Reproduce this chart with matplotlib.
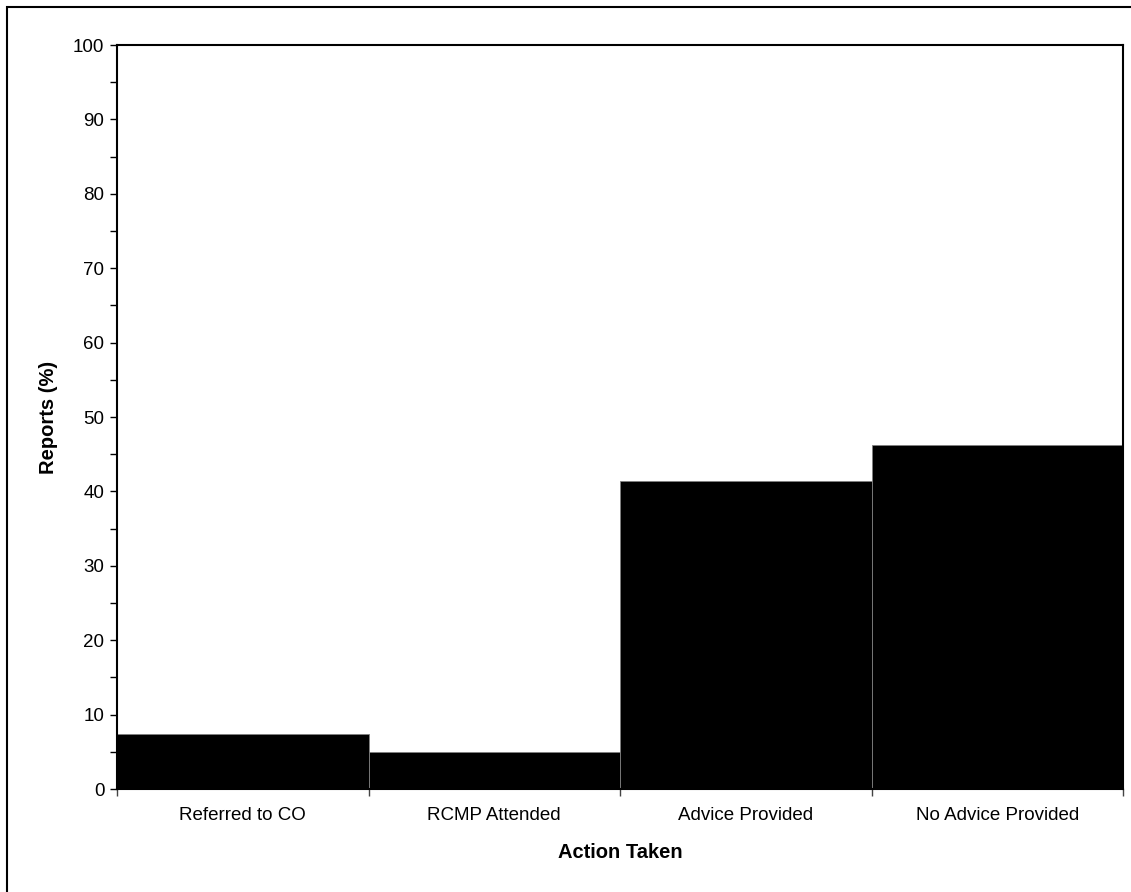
import numpy as np
import matplotlib.pyplot as plt
from matplotlib.patches import Rectangle
from matplotlib.ticker import MultipleLocator, FixedLocator, NullFormatter

plt.rcParams['font.family'] = ['Liberation Sans', 'DejaVu Sans']

acoes = ['Referred to CO', 'RCMP Attended', 'Advice Provided', 'No Advice Provided']
relatos = [7.4, 5.0, 41.4, 46.3]

fig = plt.figure(figsize=(11.31, 8.92), dpi=100)
ax = fig.add_axes([117 / 1131, 1 - 789 / 892, (1123 - 117) / 1131, (789 - 45) / 892])

x = np.arange(len(acoes))
ax.bar(x, relatos, width=1.0, color='black', edgecolor='#808080', linewidth=0.6)

ax.set_xlim(-0.5, len(acoes) - 0.5)
ax.set_ylim(0, 100)

# ticks nas divisas entre categorias, rotulos no centro
ax.xaxis.set_major_locator(FixedLocator(np.arange(-0.5, len(acoes), 1.0)))
ax.xaxis.set_major_formatter(NullFormatter())
ax.xaxis.set_minor_locator(FixedLocator(x))
ax.set_xticklabels(acoes, minor=True)
ax.tick_params(axis='x', which='major', direction='out', length=5, width=1, color='#444444')
ax.tick_params(axis='x', which='minor', length=0, labelsize=13.5, pad=13)

ax.yaxis.set_major_locator(MultipleLocator(10))
ax.yaxis.set_minor_locator(MultipleLocator(5))
ax.tick_params(axis='y', which='both', direction='out', length=5, width=1, labelsize=13.5, pad=4)

for s in ax.spines.values():
    s.set_linewidth(1.5)
    s.set_color('black')

ax.set_xlabel('Action Taken', fontsize=14.5, fontweight='bold', labelpad=14)
ax.set_ylabel('Reports (%)', fontsize=14.5, fontweight='bold', labelpad=11)

# moldura da figura (cortada a direita e embaixo)
fig.patches.append(Rectangle((7 / 1131, -0.1), 1.2, 1 - 7 / 892 + 0.1,
                             transform=fig.transFigure, fill=False,
                             edgecolor='black', linewidth=1.5))

fig.savefig('out.png', dpi=100)
